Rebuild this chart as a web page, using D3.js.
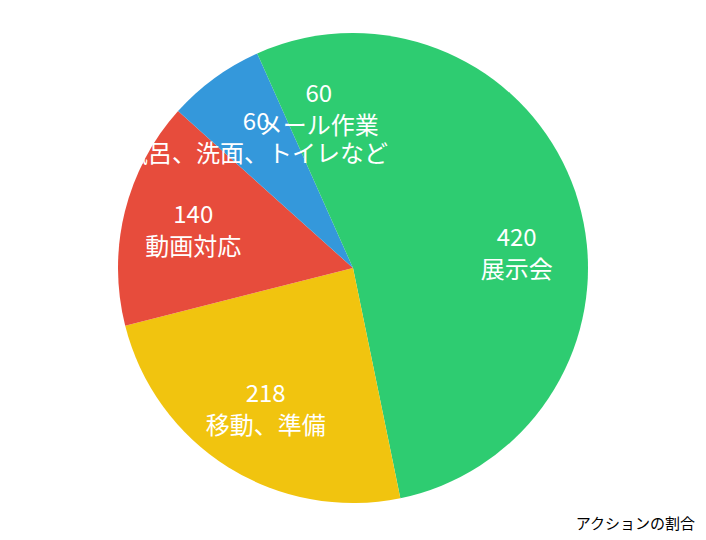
<!DOCTYPE html>
<html>
<head>
<meta charset="utf-8">
<script src="https://cdn.jsdelivr.net/npm/d3@7"></script>
<style>
  body { margin: 0; background: #fff; }
  text { font-family: "Noto Sans CJK JP", "Noto Sans", sans-serif; }
</style>
</head>
<body>
<div id="chart"></div>
<script>
// data
var labels = ["展示会", "移動、準備", "動画対応", "風呂、洗面、トイレなど", "メール作業"];
var values = [420, 218, 140, 60, 60];
var colors = ["#2ecc71", "#f1c40f", "#e74c3c", "#3498db", "#2ecc71"];
var caption = "アクションの割合";

var width = 706, height = 540;
var cx = 353, cy = 268, radius = 235;

var svg = d3.select("#chart")
  .append("svg")
    .attr("width", width)
    .attr("height", height);

var g = svg.append("g")
  .attr("transform", "translate(" + cx + "," + cy + ")");

var data = labels.map(function(l, i) { return {label: l, value: values[i], color: colors[i]}; });

var pie = d3.pie()
  .sort(null)
  .value(function(d) { return d.value; });

var arc = d3.arc().innerRadius(0).outerRadius(radius);
var labelArc = d3.arc().innerRadius(radius * 0.7).outerRadius(radius * 0.7);

var arcs = pie(data);

// slices
g.selectAll("path")
  .data(arcs)
  .enter()
  .append("path")
    .attr("d", arc)
    .attr("fill", function(d) { return d.data.color; });

// labels (value on top, name below)
var lbl = g.selectAll("g.lbl")
  .data(arcs)
  .enter()
  .append("g")
    .attr("class", "lbl")
    .attr("transform", function(d) { return "translate(" + labelArc.centroid(d) + ")"; });

lbl.append("text")
  .attr("y", -16)
  .attr("text-anchor", "middle")
  .attr("dominant-baseline", "central")
  .attr("fill", "#fff")
  .attr("font-size", "24px")
  .text(function(d) { return d.data.value; });

lbl.append("text")
  .attr("y", 16)
  .attr("text-anchor", "middle")
  .attr("dominant-baseline", "central")
  .attr("fill", "#fff")
  .attr("font-size", "24px")
  .text(function(d) { return d.data.label; });

// caption
svg.append("text")
  .attr("x", 695)
  .attr("y", 522)
  .attr("text-anchor", "end")
  .attr("dominant-baseline", "central")
  .attr("font-size", "15px")
  .attr("fill", "#000")
  .text(caption);
</script>
</body>
</html>
